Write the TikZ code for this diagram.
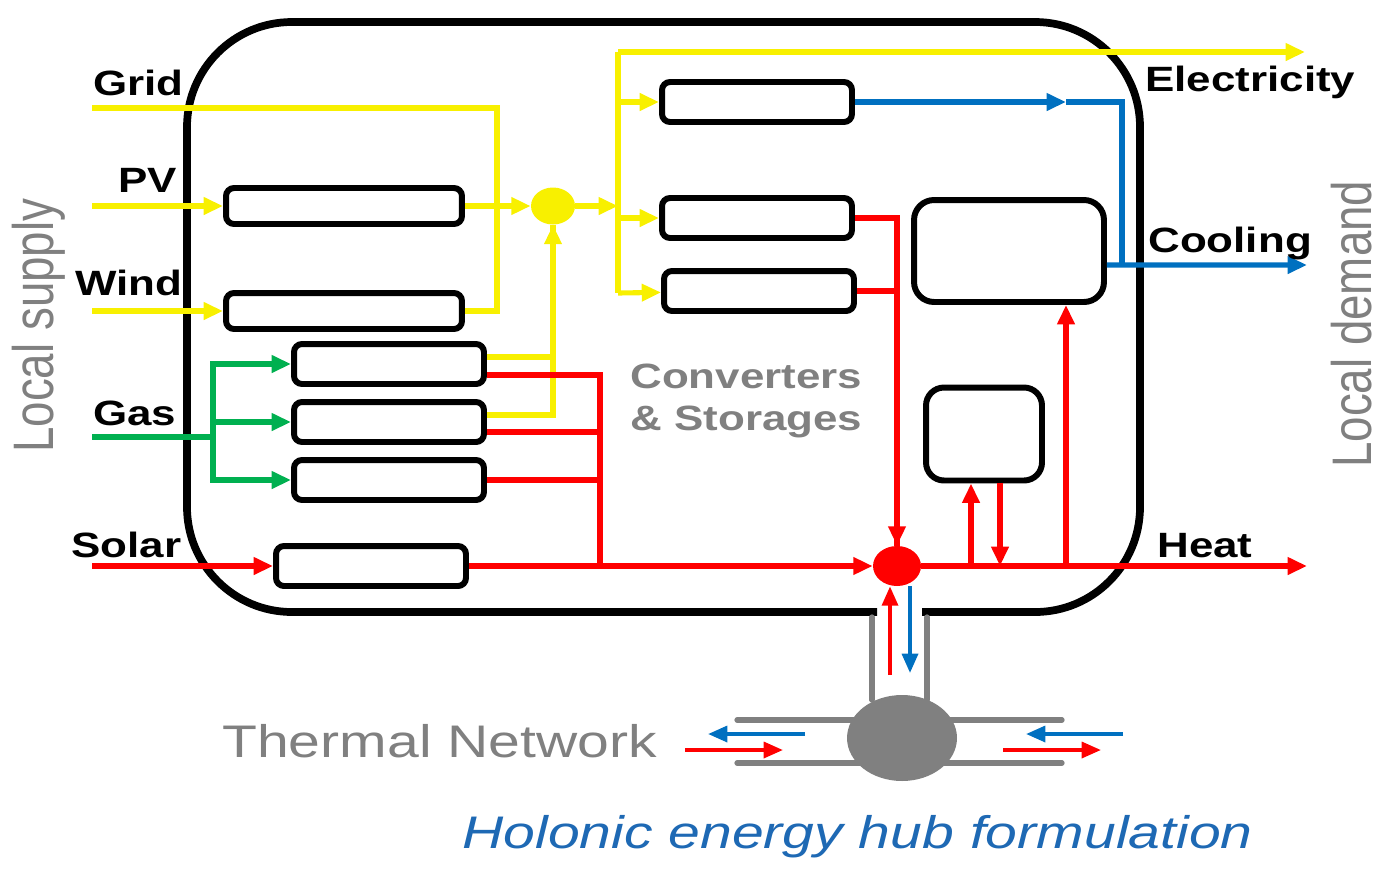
\documentclass[tikz,border=0pt]{standalone}
\usepackage{fontspec}
\setmainfont{Liberation Sans}
\usetikzlibrary{arrows.meta,shapes.geometric}
\definecolor{elecy}{RGB}{248,240,0}
\definecolor{gasg}{RGB}{0,176,80}
\definecolor{coolb}{RGB}{0,112,192}
\definecolor{heatr}{RGB}{255,0,0}
\definecolor{txtgray}{RGB}{128,128,128}
\definecolor{titleb}{RGB}{30,105,180}
\newcommand\hwide[1]{\scalebox{1.25}[1]{#1}}

\begin{document}
\begin{tikzpicture}[x=0.02cm,y=-0.02cm,
  >={Triangle[length=11pt,width=9.5pt]},
  flow/.style={line width=2.9pt},
  elec/.style={flow,draw=elecy},
  gas/.style={flow,draw=gasg},
  heat/.style={flow,draw=heatr},
  cool/.style={flow,draw=coolb},
  tarr/.style={line width=2.2pt,-{Triangle[length=11pt,width=9pt]}},
  unit/.style={draw,line width=3.4pt,rounded corners=1.6mm,minimum width=3.8cm,minimum height=0.8cm,inner sep=0},
  bus/.style={ellipse,inner sep=0},
  lab/.style={font=\fontsize{20}{24}\selectfont\bfseries,inner sep=0,anchor=base west},
  big/.style={font=\fontsize{26}{30}\selectfont,inner sep=0,anchor=base west,text=txtgray},
  pipe/.style={draw=txtgray,line width=3pt,line cap=round}]
\useasboundingbox (0,0) rectangle (1385,873);

% hub outline, open at the bottom for the network pipe
\draw[line width=4.4pt,rounded corners=2.1cm] (922,612) -- (1140,612) -- (1140,22) -- (187,22) -- (187,612) -- (877,612);

\node[unit,minimum width=4.72cm,minimum height=0.72cm] (pvp) at (344,206) {};
\node[unit,minimum width=4.72cm,minimum height=0.72cm] (wt) at (344,311) {};
\node[unit] (chpa) at (389,364) {};
\node[unit] (chpb) at (389,422) {};
\node[unit] (gb) at (389,480) {};
\node[unit] (stc) at (371,566) {};
\node[unit] (ec) at (757,102) {};
\node[unit] (hp) at (757,218) {};
\node[unit] (eb) at (759,291) {};
\node[unit,minimum height=2.04cm,rounded corners=4mm] (ac) at (1009,251) {};
\node[unit,minimum width=2.32cm,minimum height=1.86cm,rounded corners=3.6mm] (ts) at (984,434) {};
\node[bus,fill=elecy,minimum width=0.88cm,minimum height=0.74cm] (ebus) at (553,206) {};
\node[bus,fill=heatr,minimum width=0.96cm,minimum height=0.8cm] (hbus) at (897,566) {};

\coordinate (in-grid) at (92,108);
\coordinate (in-pv) at (92,206);
\coordinate (in-wind) at (92,311);
\coordinate (in-gas) at (92,437);
\coordinate (in-solar) at (92,566);
\coordinate (jw) at (497,311);
\coordinate (jg) at (213,437);
\coordinate (jr) at (600,566);
\coordinate (jt) at (618,52);
\coordinate (jb) at (618,206);
\coordinate (jc) at (618,293);
\coordinate (jm) at (1066,102);
\coordinate (jk) at (1122,265);
\coordinate (out-el) at (1305,52);
\coordinate (out-cool) at (1307,265);
\coordinate (out-heat) at (1307,566);
\coordinate (tsu) at ([xshift=-2.6mm]ts.south);
\coordinate (tsd) at ([xshift=3.2mm]ts.south);
\coordinate (acu) at ([xshift=1.14cm]ac.south);
\coordinate (tup) at (890,675);
\coordinate (tdn) at (910,673);

% electricity
\draw[elec] (in-grid) -| (jw) -- (wt.east);
\draw[elec,->] (in-pv) -- (pvp);
\draw[elec,->] (in-wind) -- (wt);
\draw[elec,->] (pvp) -- (ebus);
\draw[elec,->] ([yshift=1.4mm]chpb.east) -| (ebus.south);
\draw[elec] ([yshift=1.4mm]chpa.east) -| (ebus.south);
\draw[elec,->] (ebus) -- (jb);
\draw[elec] (jt) -- (jc);
\draw[elec,->] (jt) -- (out-el);
\draw[elec,->] (jt |- ec) -- (ec);
\draw[elec,->] (jt |- hp) -- (hp);
\draw[elec,->] (jc) -- (eb);

% gas
\draw[gas] (in-gas) -- (jg);
\draw[gas,->] (jg) |- (chpa);
\draw[gas,->] (jg) |- (chpb);
\draw[gas,->] (jg) |- (gb);

% cooling
\draw[cool,->] (ec) -- (jm);
\draw[cool] (jm) -| (jk);
\draw[cool,->] ([yshift=-2.8mm]ac.east) -- (out-cool);

% heat
\draw[heat,->] (in-solar) -- (stc);
\draw[heat,->] (stc) -- (hbus);
\draw[heat] ([yshift=-2.2mm]chpa.east) -| (jr);
\draw[heat] ([yshift=-2mm]chpb.east) -| (jr);
\draw[heat] (gb.east) -| (jr);
\draw[heat,->] (hp) -| (hbus);
\draw[heat] (eb) -| (hbus);
\draw[heat,->] (hbus) -- (out-heat);
\draw[heat,->] (tsu |- hbus) -- (tsu);
\draw[heat,->] (tsd) -- (tsd |- hbus);
\draw[heat,->] (acu |- hbus) -- (acu);

% thermal network
\draw[heat,tarr] (tup) -- (tup |- hbus.south);
\draw[cool,tarr] (tdn |- hbus.south) -- (tdn);
\draw[pipe] (872,617) -- (872,700) (927,617) -- (927,700) (737,720) -- (1062,720) (737,763) -- (1062,763);
\node[ellipse,fill=txtgray,minimum width=2.2cm,minimum height=1.72cm,inner sep=0] (tn) at (902,738) {};
\foreach \x in {685,1003} {
  \draw[heat,tarr] (\x,750) -- ++(98,0);
  \draw[cool,tarr] (\x+120,734) -- ++(-97,0);
}

% labels
\node[lab] (lgrid) at (93,95) {\hwide{Grid}};
\node[lab] (lpv) at (118,192) {\hwide{PV}};
\node[lab] (lwind) at (75,295) {\hwide{Wind}};
\node[lab] (lgas) at (93,425) {\hwide{Gas}};
\node[lab] (lsolar) at (71,557) {\hwide{Solar}};
\node[lab] (lel) at (1145,91) {\hwide{Electricity}};
\node[lab] (lcool) at (1148,252) {\hwide{Cooling}};
\node[lab] (lheat) at (1157,557) {\hwide{Heat}};
\node[lab,text=txtgray] (lconv) at (630,388) {\hwide{Converters}};
\node[lab,text=txtgray] (lstor) at (630,430) {\hwide{\& Storages}};
\node[big] (ltn) at (222,757) {\hwide{Thermal Network}};
\node[big,text=titleb,font=\fontsize{26}{30}\selectfont\itshape] (ltitle) at (462,848) {\hwide{Holonic energy hub formulation}};
\node[big,rotate=90] (lsup) at (53,453) {\scalebox{1}[1.25]{Local supply}};
\node[big,rotate=90] (ldem) at (1371,468) {\scalebox{1}[1.22]{Local demand}};
\end{tikzpicture}
\end{document}
